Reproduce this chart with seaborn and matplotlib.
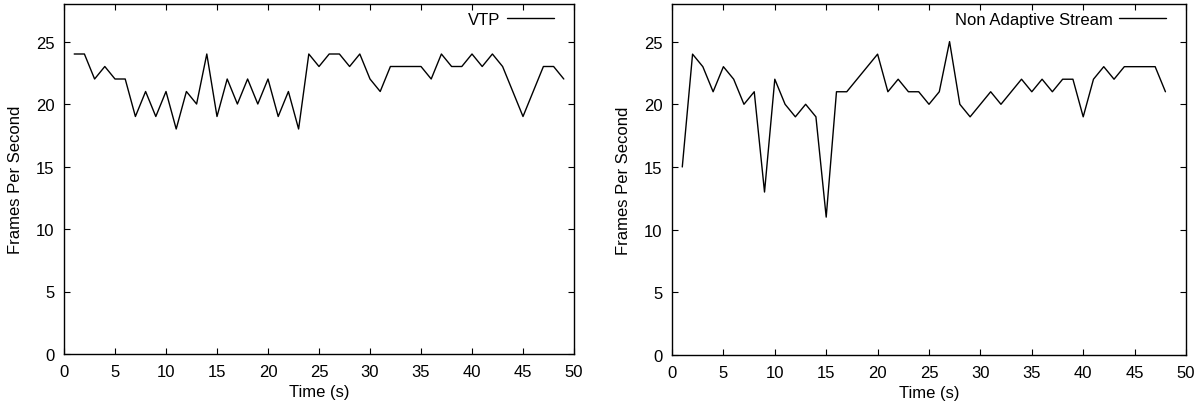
import matplotlib
matplotlib.use("Agg")
import matplotlib.pyplot as plt
import seaborn as sns
import pandas as pd

vtp_time = list(range(1, 50))
vtp_fps = [24, 24, 22, 23, 22, 22, 19, 21, 19, 21, 18, 21, 20, 24, 19, 22, 20, 22, 20, 22,
           19, 21, 18, 24, 23, 24, 24, 23, 24, 22, 21, 23, 23, 23, 23, 22, 24, 23, 23, 24,
           23, 24, 23, 21, 19, 21, 23, 23, 22]

nas_time = list(range(1, 49))
nas_fps = [15, 24, 23, 21, 23, 22, 20, 21, 13, 22, 20, 19, 20, 19, 11, 21, 21, 22, 23, 24,
           21, 22, 21, 21, 20, 21, 25, 20, 19, 20, 21, 20, 21, 22, 21, 22, 21, 22, 22, 19,
           22, 23, 22, 23, 23, 23, 23, 21]

x_ticks = [0, 5, 10, 15, 20, 25, 30, 35, 40, 45, 50]
y_ticks = [0, 5, 10, 15, 20, 25]

sns.set_style("ticks")
plt.rcParams['font.family'] = ['Liberation Sans', 'DejaVu Sans']
plt.rcParams['text.color'] = 'black'
plt.rcParams['axes.labelcolor'] = 'black'

W, H = 1201, 414
fig = plt.figure(figsize=(W / 100, H / 100), dpi=100)

def make_axes(l, r, b, t):
    return fig.add_axes([l / W, (H - b) / H, (r - l) / W, (b - t) / H])

ax1 = make_axes(64, 574, 355, 5)
ax2 = make_axes(672, 1186, 356, 5)

FS = 12
for ax, t, v, lab in [(ax1, vtp_time, vtp_fps, "VTP"),
                      (ax2, nas_time, nas_fps, "Non Adaptive Stream")]:
    df = pd.DataFrame({"Time (s)": t, "fps": v, "series": lab})
    sns.lineplot(data=df, x="Time (s)", y="fps", hue="series", palette=["black"],
                 ax=ax, linewidth=1.0)
    ax.set_xlim(0, 50)
    ax.set_ylim(0, 28)
    ax.set_xticks(x_ticks)
    ax.set_yticks(y_ticks)
    ax.tick_params(direction="in", top=True, right=True, length=4, width=0.8,
                   labelsize=FS, colors="black", pad=7)
    for s in ax.spines.values():
        s.set_visible(True)
        s.set_linewidth(1.0)
        s.set_color("black")
    ax.set_xlabel("Time (s)", fontsize=FS, labelpad=4, color="black")
    ax.set_ylabel("Frames Per Second", fontsize=FS, labelpad=9, color="black")
    leg = ax.legend(loc="upper right", frameon=False, markerfirst=False, fontsize=FS,
                    handlelength=2.8, borderaxespad=0.2, handletextpad=0.4,
                    bbox_to_anchor=(1 - 10 / 510, 1 + 2 / 350))
    for h in leg.get_lines():
        h.set_linewidth(1.0)
    for txt in leg.get_texts():
        txt.set_color("black")

fig.savefig("out.png", dpi=100)
